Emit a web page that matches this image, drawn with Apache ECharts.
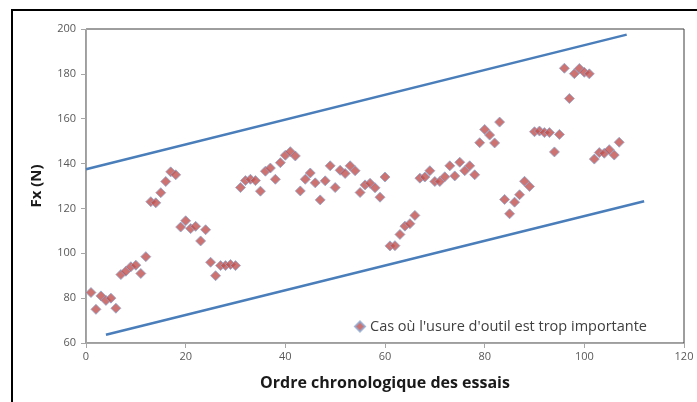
<!DOCTYPE html>
<html>
<head>
<meta charset="utf-8">
<script src="https://cdn.jsdelivr.net/npm/echarts@6/dist/echarts.min.js"></script>
<style>
  html, body { margin: 0; padding: 0; background: #fff; }
  #chart { width: 697px; height: 402px; }
</style>
</head>
<body>
<div id="chart"></div>
<script>
// Essai number (chronological order) and measured cutting force Fx in N
const trialIndex = Array.from({ length: 107 }, (_, i) => i + 1);
const fxValues = [
  82.5, 75, 81, 79, 80, 75.5, 90.5, 92, 94, 94.7,
  91, 98.5, 123, 122.5, 127, 132, 136.3, 135, 111.7, 114.5,
  111, 112, 105.5, 110.5, 96, 90, 94.5, 94.5, 95, 94.5,
  129.3, 132.4, 133, 132.4, 127.7, 136.6, 138, 133, 140.4, 143.7,
  145.3, 143.4, 127.8, 133, 135.8, 131.4, 123.8, 132.3, 139, 129.3,
  137, 135.6, 139, 136.8, 127.1, 130.5, 131.2, 129.2, 125, 134,
  103.3, 103.4, 108.4, 112.1, 113.2, 116.9, 133.5, 134, 136.8, 132,
  132, 134.1, 139, 134.5, 140.6, 136.8, 139, 135, 149.3, 155.2,
  152.7, 149.2, 158.5, 124, 117.6, 122.8, 126.1, 132.1, 129.8, 154.2,
  154.5, 153.8, 153.8, 145.2, 153, 182.5, 169, 180.1, 182.4, 180.7,
  180, 142, 144.9, 144.6, 146.2, 143.8, 149.5
];

// Upper and lower limit lines (x, Fx)
const upperLimit = [[0, 137.5], [108.5, 197.5]];
const lowerLimit = [[4, 63.7], [112, 123.2]];

const xTicks = { min: 0, max: 120, interval: 20 };
const yTicks = { min: 60, max: 200, interval: 20 };

const seriesName = "Cas où l'usure d'outil est trop importante";
const xTitle = 'Ordre chronologique des essais';
const yTitle = 'Fx (N)';

const FONT = '"Open Sans", Lato, sans-serif';
const points = trialIndex.map((x, i) => [x, fxValues[i]]);

const chart = echarts.init(document.getElementById('chart'), null, { renderer: 'canvas' });

chart.setOption({
  animation: false,
  backgroundColor: '#ffffff',
  textStyle: { fontFamily: FONT },
  graphic: [{
    type: 'rect',
    shape: { x: 12, y: 10, width: 720, height: 420 },
    style: { fill: 'none', stroke: '#000000', lineWidth: 2 },
    silent: true,
    z: 100
  }],
  grid: {
    left: 86, right: 13, top: 29, bottom: 59,
    show: true,
    borderColor: '#3c3c3c',
    borderWidth: 1
  },
  legend: {
    data: [{ name: seriesName, icon: 'diamond' }],
    left: 349, top: 314,
    itemWidth: 10, itemHeight: 10, itemGap: 4,
    textStyle: { fontFamily: FONT, fontSize: 14.5, color: '#404040' }
  },
  xAxis: {
    type: 'value',
    min: xTicks.min, max: xTicks.max, interval: xTicks.interval,
    name: xTitle,
    nameLocation: 'middle',
    nameGap: 32,
    nameTextStyle: { fontFamily: FONT, fontSize: 16, fontWeight: 'bold', color: '#1a1a1a' },
    axisLine: { show: true, onZero: false, lineStyle: { color: '#a6a6a6', width: 1 } },
    axisTick: { show: true, inside: false, length: 5, lineStyle: { color: '#a6a6a6' } },
    axisLabel: { fontFamily: FONT, fontSize: 11, color: '#595959', margin: 8 },
    splitLine: { show: false }
  },
  yAxis: {
    type: 'value',
    min: yTicks.min, max: yTicks.max, interval: yTicks.interval,
    name: yTitle,
    nameLocation: 'middle',
    nameRotate: 90,
    nameGap: 42,
    nameTextStyle: { fontFamily: FONT, fontSize: 15, fontWeight: 'bold', color: '#1a1a1a' },
    axisLine: { show: true, onZero: false, lineStyle: { color: '#a6a6a6', width: 1 } },
    axisTick: { show: true, inside: false, length: 5, lineStyle: { color: '#a6a6a6' } },
    axisLabel: { fontFamily: FONT, fontSize: 11, color: '#595959', margin: 10 },
    splitLine: { show: false }
  },
  series: [
    {
      name: 'upper',
      type: 'line',
      data: upperLimit,
      symbol: 'none',
      lineStyle: { color: '#4a7ebb', width: 2.5 },
      silent: true,
      z: 2
    },
    {
      name: 'lower',
      type: 'line',
      data: lowerLimit,
      symbol: 'none',
      lineStyle: { color: '#4a7ebb', width: 2.5 },
      silent: true,
      z: 2
    },
    {
      name: seriesName,
      type: 'scatter',
      data: points,
      symbol: 'diamond',
      symbolSize: 10,
      itemStyle: { color: '#c0504d', borderColor: '#8fa8d0', borderWidth: 1 },
      z: 3
    }
  ]
});
</script>
</body>
</html>
